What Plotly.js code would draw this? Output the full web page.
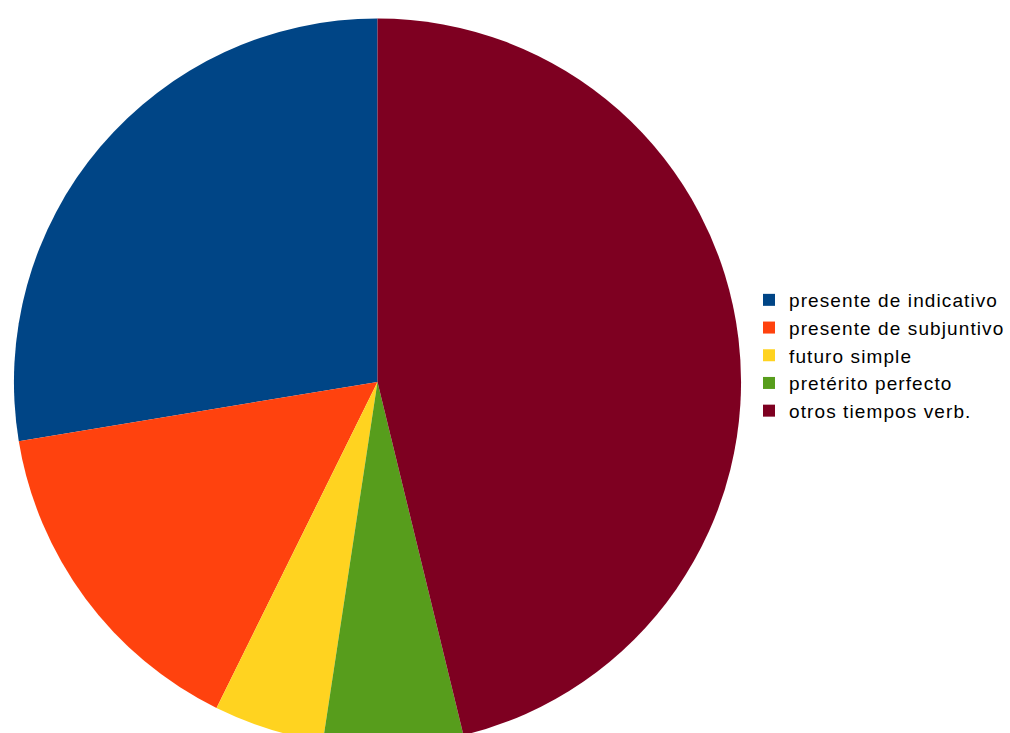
<!DOCTYPE html>
<html>
<head>
<meta charset="utf-8">
<script src="https://cdn.plot.ly/plotly-3.0.1.min.js"></script>
<style>
html,body{margin:0;padding:0;overflow:hidden;background:#fff;}
#chart{width:1010px;height:770px;}
.legendtext{letter-spacing:1.1px;}
</style>
</head>
<body>
<div id="chart"></div>
<script>
const labels = ["presente de indicativo", "presente de subjuntivo", "futuro simple", "pretérito perfecto", "otros tiempos verb."];
const values = [27.6, 15.1, 4.9, 6.2, 46.2];
const colors = ["#004586", "#ff420e", "#ffd320", "#579d1c", "#7e0021"];

const W = 1010, H = 770;
const total = values.reduce((a, b) => a + b, 0);
const trace = {
  type: "pie",
  labels: labels,
  values: values,
  sort: false,
  direction: "counterclockwise",
  rotation: -360 * values[0] / total,
  textinfo: "none",
  hoverinfo: "label+percent",
  marker: {colors: colors, line: {width: 0}},
  domain: {x: [14 / W, 744 / W], y: [(H - 747) / H, (H - 17) / H]}
};
const layout = {
  width: W, height: H,
  margin: {l: 0, r: 0, t: 0, b: 0},
  paper_bgcolor: "#ffffff",
  showlegend: true,
  legend: {
    x: 752 / W, xanchor: "left",
    y: (H - 281) / H, yanchor: "top",
    font: {family: "Liberation Sans, Arial, sans-serif", size: 19, color: "#000000"},
    tracegroupgap: 0
  }
};
Plotly.newPlot("chart", [trace], layout, {staticPlot: true});
</script>
</body>
</html>
